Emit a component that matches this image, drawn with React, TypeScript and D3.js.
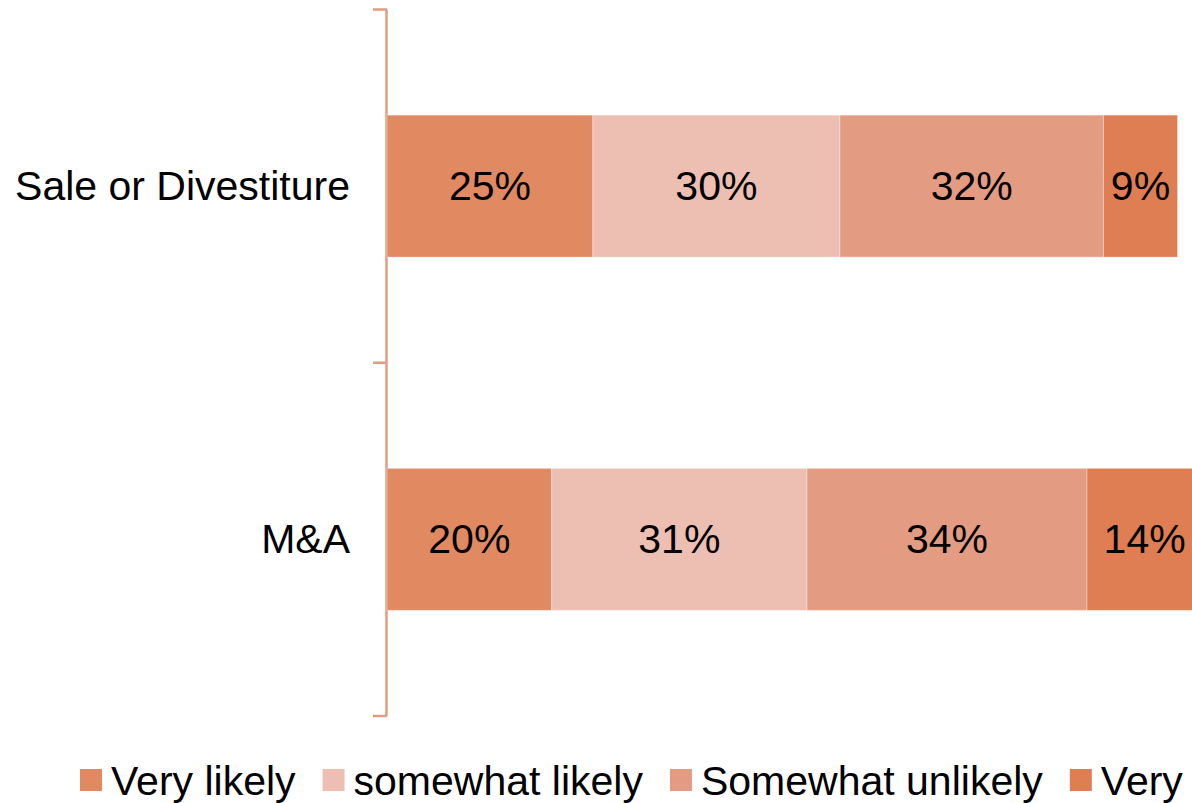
import React, { useEffect, useRef } from 'react';
import * as d3 from 'd3';

const categories = ['Sale or Divestiture', 'M&A'];
const seriesNames = ['Very likely', 'somewhat likely', 'Somewhat unlikely', 'Very unlikely'];
const seriesColors = ['#E18A62', '#EDBFB3', '#E39C81', '#DF7E52'];
const veryLikely = [25, 20];
const somewhatLikely = [30, 31];
const somewhatUnlikely = [32, 34];
const veryUnlikely = [9, 14];

const W = 1192;
const H = 803;
const FONT = '"Liberation Sans", Arial, sans-serif';
const FS = 41;

export default function App() {
  const ref = useRef<SVGSVGElement>(null);

  useEffect(() => {
    const svg = d3.select(ref.current);
    svg.selectAll('*').remove();

    const series = [veryLikely, somewhatLikely, somewhatUnlikely, veryUnlikely];
    const rows = categories.map((c, i) => {
      const r: any = { cat: c };
      seriesNames.forEach((s, j) => (r[s] = series[j][i]));
      return r;
    });
    const stacked = d3.stack().keys(seriesNames)(rows);

    const x = d3.scaleLinear().domain([0, 100]).range([387, 1210.5]);
    const y = d3.scaleBand().domain(categories).range([9.5, 716]).padding(0);
    const barH = y.bandwidth() * 0.402;

    // axis with ticks at band edges
    const axisColor = '#E39C81';
    const g = svg.append('g');
    g.append('line')
      .attr('x1', 386.5).attr('x2', 386.5)
      .attr('y1', y.range()[0]).attr('y2', y.range()[1])
      .attr('stroke', axisColor).attr('stroke-width', 2.5);
    const edges = [...categories.map(c => y(c)!), y.range()[1]];
    g.selectAll('line.tick').data(edges).enter().append('line')
      .attr('x1', 373).attr('x2', 387)
      .attr('y1', d => d).attr('y2', d => d)
      .attr('stroke', axisColor).attr('stroke-width', 2.5);

    // category labels
    svg.append('g').selectAll('text').data(categories).enter().append('text')
      .attr('x', 350)
      .attr('y', d => y(d)! + y.bandwidth() / 2)
      .attr('text-anchor', 'end')
      .attr('dominant-baseline', 'central')
      .attr('font-family', FONT).attr('font-size', FS)
      .attr('fill', '#000')
      .text(d => d);

    // bars
    stacked.forEach((layer, j) => {
      const lg = svg.append('g');
      lg.selectAll('rect').data(layer).enter().append('rect')
        .attr('x', d => x(d[0]))
        .attr('width', d => x(d[1]) - x(d[0]))
        .attr('y', d => y(d.data.cat as string)! + (y.bandwidth() - barH) / 2)
        .attr('height', barH)
        .attr('fill', seriesColors[j])
        .attr('stroke', '#fff').attr('stroke-opacity', 0.35).attr('stroke-width', 1);
      lg.selectAll('text').data(layer).enter().append('text')
        .attr('x', d => (x(d[0]) + x(d[1])) / 2)
        .attr('y', d => y(d.data.cat as string)! + y.bandwidth() / 2)
        .attr('text-anchor', 'middle')
        .attr('dominant-baseline', 'central')
        .attr('font-family', FONT).attr('font-size', FS)
        .attr('fill', '#000')
        .text(d => `${d[1] - d[0]}%`);
    });

    // legend (runs off the right edge, as in the source)
    const leg = svg.append('g');
    let lx = 80;
    seriesNames.forEach((s, j) => {
      leg.append('rect')
        .attr('x', lx).attr('y', 769).attr('width', 22).attr('height', 22)
        .attr('fill', seriesColors[j]);
      const t = leg.append('text')
        .attr('x', lx + 31).attr('y', 795)
        .attr('font-family', FONT).attr('font-size', FS)
        .attr('fill', '#000')
        .text(s);
      const w = (t.node() as SVGTextElement).getComputedTextLength();
      lx = lx + 31 + w + 27;
    });
  }, []);

  return (
    <svg ref={ref} width={W} height={H} style={{ position: 'absolute', left: 0, top: 0 }} />
  );
}
